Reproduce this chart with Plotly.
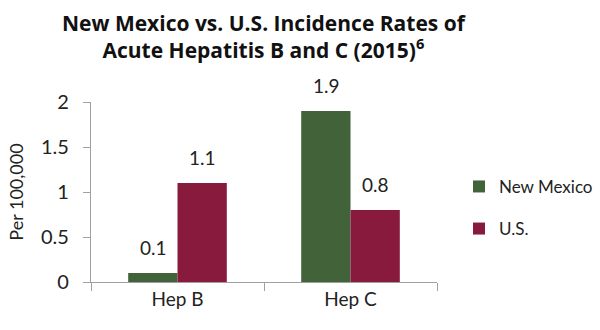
import plotly.graph_objects as go

categories = ["Hep B", "Hep C"]
new_mexico = [0.1, 1.9]
us = [1.1, 0.8]
series_names = ["New Mexico", "U.S."]
y_ticks = [0, 0.5, 1, 1.5, 2]
y_tick_labels = ["0", "0.5", "1", "1.5", "2"]

FONT = "Lato, sans-serif"
GREEN = "#42633A"
MAROON = "#871A3D"


def f(size, color="#222"):
    return dict(family=FONT, size=size, color=color)


fig = go.Figure()
for name, vals, color, grp in [(series_names[0], new_mexico, GREEN, "a"),
                               (series_names[1], us, MAROON, "b")]:
    fig.add_trace(go.Bar(
        x=categories, y=vals, name=name,
        marker=dict(color=color, line=dict(width=0)),
        legendgroup=grp,
    ))

# value labels above bars (bar width in px = half the group width)
BAR_HALF = 24.5
for vals, shift in [(new_mexico, -BAR_HALF), (us, BAR_HALF)]:
    for cat, v in zip(categories, vals):
        fig.add_annotation(
            x=cat, y=v, xref="x", yref="y", text=str(v),
            showarrow=False, xanchor="center", yanchor="bottom",
            xshift=shift, yshift=12, font=f(19),
        )

fig.add_annotation(
    text="New Mexico vs. U.S. Incidence Rates of<br>Acute Hepatitis B and C (2015)<sup style='font-size:13px'>6</sup>",
    x=0.5, xref="paper", xanchor="center",
    y=1.2, yref="paper", yanchor="bottom",
    showarrow=False, align="center",
    font=dict(family="Open Sans, sans-serif", size=21, color="#111", weight="bold"),
)

fig.update_layout(
    width=600, height=330,
    margin=dict(l=91, r=163, t=102, b=48, autoexpand=False),
    paper_bgcolor="white", plot_bgcolor="white",
    barmode="group", bargap=0.43, bargroupgap=0,
    font=f(18),
    legend=dict(
        xref="container", yref="container",
        x=0.765, y=0.37, xanchor="left", yanchor="middle",
        font=f(17), itemwidth=30, tracegroupgap=17, bgcolor="rgba(0,0,0,0)",
    ),
    showlegend=True,
)

fig.update_xaxes(
    showline=True, linecolor="#A0A0A0", linewidth=1.3,
    ticks="outside", tickson="boundaries", ticklen=8, tickcolor="#A0A0A0",
    tickfont=f(19), showgrid=False, zeroline=False,
)
fig.update_yaxes(
    range=[0, 2], tickvals=y_ticks, ticktext=y_tick_labels,
    showline=True, linecolor="#A0A0A0", linewidth=1.3,
    ticks="outside", ticklen=7, tickcolor="#A0A0A0",
    tickfont=f(20), ticklabelstandoff=10,
    title=dict(text="Per 100,000", font=f(18), standoff=12),
    showgrid=False, zeroline=False,
)

fig.write_html("out.html")
